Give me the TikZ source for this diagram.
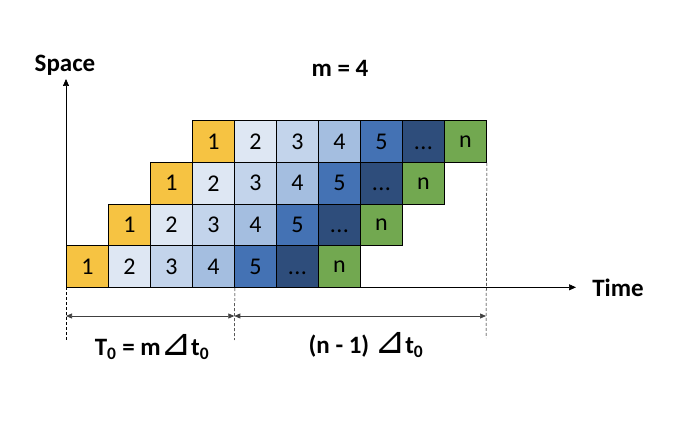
\documentclass[tikz,border=0pt]{standalone}
\usepackage{fontspec}
\setmainfont{Carlito}
\newfontfamily\symfont{DejaVu Sans}
\usetikzlibrary{arrows.meta}
\usetikzlibrary{positioning}
\definecolor{cyel}{HTML}{F6C342}
\definecolor{cbla}{HTML}{DEE7F3}
\definecolor{cblb}{HTML}{C3D4EB}
\definecolor{cblc}{HTML}{A4BEE0}
\definecolor{cbld}{HTML}{4472B4}
\definecolor{cble}{HTML}{2E4D7B}
\definecolor{cgrn}{HTML}{72A850}
\newcommand{\tri}{\raisebox{-0.5pt}{\scalebox{1.5}{\symfont\mdseries ⊿}}\kern-1pt}
\newcommand{\etc}{\vphantom{1}.\kern0.5pt.\kern0.5pt.}

\begin{document}
\begin{tikzpicture}[x=1pt, y=-1pt, cell/.style={draw, line width=0.9pt,
minimum width=42pt, minimum height=41.8pt, inner sep=0pt, anchor=north west,
font=\fontsize{24}{24}\selectfont},
lab/.style={font=\fontsize{25}{25}\selectfont\bfseries},
tip/.style={-{Triangle[length=7pt,width=6pt]}},
dim/.style={{Triangle[length=6pt,width=5pt]}-{Triangle[length=6pt,width=5pt]}, black!75},
mark line/.style={dash pattern=on 3pt off 2pt, line width=0.5pt}]
\useasboundingbox (0,0) rectangle (678,422);
% cells, row r starts one column later
\foreach \r in {0, 1, 2, 3}{
\foreach \k/\t/\col in {0/1/cyel, 1/2/cbla, 2/3/cblb, 3/4/cblc, 4/5/cbld, 5/\etc/cble, 6/n/cgrn}{
\node[cell, fill=\col] (c\r\k) at ({66+42*(\r+\k)},{287.3-41.8*(\r+1)}){\t};}}
% axes
\coordinate (O) at (66,287.3);
\coordinate (ytop) at (66,79);
\coordinate (xend) at (576,287.3);
\draw[tip, line width=0.7pt] (O) -- (ytop);
\draw[tip, line width=0.7pt] (O) -- (xend);
\node[lab] (space) at (65,65) {Space};
\node[lab] (time) at (618,288) {Time};
\node[lab] (m) at (340,68) {m = 4};
% dimension marks
\coordinate (t0) at (66,340);
\coordinate (t1) at (234.3,340);
\coordinate (t2) at (486,338);
\draw[mark line] (O) -- (t0);
\draw[mark line] (c03.south east) -- (t1);
\draw[mark line] (c36.south east) -- (t2);
\coordinate (d0) at (66,316);
\coordinate (d1) at (234.3,316);
\coordinate (d2) at (486,316);
\draw[dim, line width=0.7pt] (d0) -- (d1);
\draw[dim, line width=0.7pt] (d1) -- (d2);
\node[lab] (T0) at (152,347) {T\textsubscript{0} = m\tri t\textsubscript{0}};
\node[lab] (n1) at (366,345) {(n - 1) \tri t\textsubscript{0}};
\end{tikzpicture}
\end{document}
